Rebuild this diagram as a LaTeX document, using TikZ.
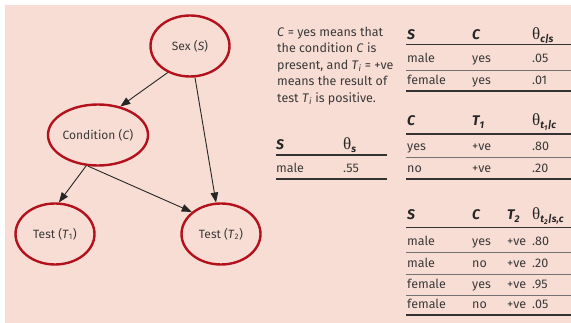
\documentclass[tikz,border=0pt]{standalone}
\usepackage{fontspec}
\setmainfont{Fira Sans}
\newfontfamily\thfont{Liberation Serif}
\usetikzlibrary{shapes.geometric,arrows.meta}
\definecolor{bg}{HTML}{F8DDD4}
\definecolor{ered}{HTML}{B3121D}
\definecolor{tx}{HTML}{3A3A3A}
\newcommand{\thsub}[1]{{\thfont\upshape\mdseries\fontsize{17}{17}\selectfont θ}\raisebox{-3pt}{\fontsize{10}{10}\selectfont\bfseries\itshape #1}}
\begin{document}
\begin{tikzpicture}[x=1pt,y=-1pt,
 var/.style={ellipse,draw=ered,line width=2.4pt,minimum width=79pt,minimum height=61pt,inner sep=0pt,font=\fontsize{12}{14}\selectfont,text=tx},
 arr/.style={-{Triangle[length=10pt,width=7.5pt]},line width=0.9pt,draw=black!85},
 cell/.style={anchor=base west,inner sep=0pt,font=\fontsize{12.5}{14}\selectfont,text=tx},
 hd/.style={anchor=base west,inner sep=0pt,font=\fontsize{14}{14}\selectfont\bfseries\itshape,text=black!85},
 thickrule/.style={line width=1.9pt,draw=black!80},
 thinrule/.style={line width=0.6pt,draw=black!55}]
\useasboundingbox (0,0) rectangle (571,323);
\fill[white] (0,0) rectangle (571,323);
\fill[bg] (5,5) rectangle (571,323);
% graph
\node[var] (S) at (190,46) {Sex (\textit{S})};
\node[var] (C) at (98,135) {Condition (\textit{C})};
\node[var] (T1) at (55,234) {Test (\textit{T}\textsubscript{1})};
\node[var] (T2) at (221,234) {Test (\textit{T}\textsubscript{2})};
\draw[arr] (S.230) -- (C.52);
\draw[arr] (S.279) -- (T2.99);
\draw[arr] (C.249) -- (T1.83);
\draw[arr] (C.252) -- (T2.143);
% note
\node[anchor=north west,align=left,inner sep=0pt,font=\fontsize{12.5}{16.5}\selectfont,text=tx] (note) at (277,26.5)
 {\textit{C} = yes means that\\ the condition \textit{C} is\\ present, and \textit{T}\textsubscript{\textit{i}} = +ve\\ means the result of\\ test \textit{T}\textsubscript{\textit{i}} is positive.};
% table theta_s
\node[hd] (a1) at (276,150) {S};
\node[hd] (a2) at (343,150) {\thsub{s}};
\draw[thickrule] (276,155) -- (387,155);
\node[cell] (a3) at (276,173) {male};
\node[cell] (a4) at (343,173) {.55};
\draw[thickrule] (276,179) -- (387,179);
% table theta_c|s
\node[hd] (b1) at (407,40) {S};
\node[hd] (b2) at (472,40) {C};
\node[hd] (b3) at (532,40) {\thsub{c|s}};
\draw[thickrule] (406,44.5) -- (571,44.5);
\node[cell] (b4) at (407,63) {male};
\node[cell] (b5) at (472,63) {yes};
\node[cell] (b6) at (532,63) {.05};
\draw[thinrule] (406,70) -- (571,70);
\node[cell] (b7) at (407,85) {female};
\node[cell] (b8) at (472,85) {yes};
\node[cell] (b9) at (532,85) {.01};
\draw[thickrule] (406,91) -- (571,91);
% table theta_t1|c
\node[hd] (c1) at (407,126) {C};
\node[hd] (c2) at (472,126) {T\textsubscript{1}};
\node[hd] (c3) at (532,126) {\thsub{t\textsubscript{1}|c}};
\draw[thickrule] (406,134) -- (571,134);
\node[cell] (c4) at (407,151) {yes};
\node[cell] (c5) at (472,151) {+ve};
\node[cell] (c6) at (532,151) {.80};
\draw[thinrule] (406,157.5) -- (571,157.5);
\node[cell] (c7) at (407,173) {no};
\node[cell] (c8) at (472,173) {+ve};
\node[cell] (c9) at (532,173) {.20};
\draw[thickrule] (406,179) -- (571,179);
% table theta_t2|s,c
\node[hd] (d1) at (407,220) {S};
\node[hd] (d2) at (472,220) {C};
\node[hd] (d3) at (507,220) {T\textsubscript{2}};
\node[hd] (d4) at (532,220) {\thsub{t\textsubscript{2}|s,c}};
\draw[thickrule] (406,227.5) -- (571,227.5);
\node[cell] (d5) at (407,246) {male};
\node[cell] (d6) at (472,246) {yes};
\node[cell] (d7) at (507,246) {+ve};
\node[cell] (d8) at (532,246) {.80};
\draw[thinrule] (406,252) -- (571,252);
\node[cell] (d9) at (407,267.5) {male};
\node[cell] (d10) at (472,267.5) {no};
\node[cell] (d11) at (507,267.5) {+ve};
\node[cell] (d12) at (532,267.5) {.20};
\draw[thinrule] (406,274) -- (571,274);
\node[cell] (d13) at (407,288.5) {female};
\node[cell] (d14) at (472,288.5) {yes};
\node[cell] (d15) at (507,288.5) {+ve};
\node[cell] (d16) at (532,288.5) {.95};
\draw[thinrule] (406,295) -- (571,295);
\node[cell] (d17) at (407,309) {female};
\node[cell] (d18) at (472,309) {no};
\node[cell] (d19) at (507,309) {+ve};
\node[cell] (d20) at (532,309) {.05};
\draw[thickrule] (406,315) -- (571,315);
\end{tikzpicture}
\end{document}
